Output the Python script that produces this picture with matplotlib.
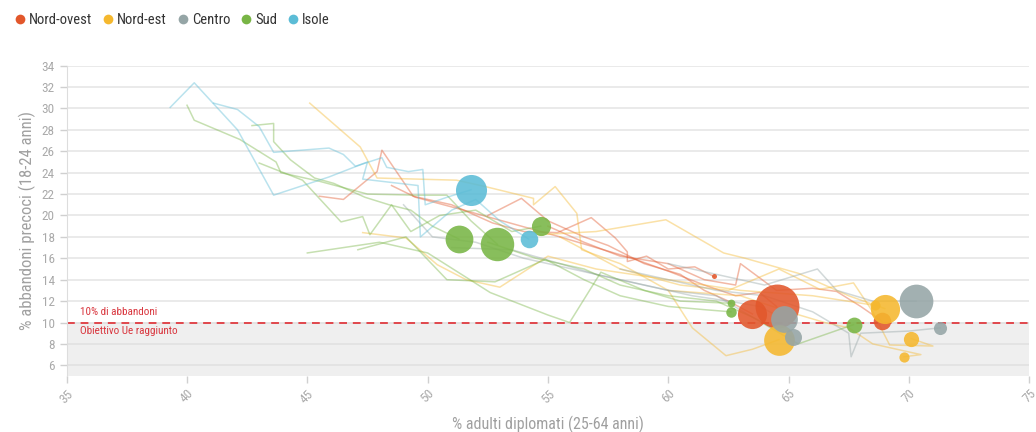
import matplotlib
matplotlib.use("Agg")
import matplotlib.pyplot as plt
from matplotlib.lines import Line2D

plt.rcParams['font.family'] = ['Roboto Condensed', 'Liberation Sans Narrow', 'Roboto', 'DejaVu Sans']

# ---- data -------------------------------------------------------------
areas = ["Nord-ovest", "Nord-est", "Centro", "Sud", "Isole"]
area_colors = ["#e2572b", "#f5b82e", "#95a5a6", "#78b545", "#5bbcd6"]

regions = ["Piemonte", "Valle d'Aosta", "Lombardia", "Liguria",
           "Bolzano", "Trento", "Veneto", "Friuli-VG", "Emilia-Romagna",
           "Toscana", "Umbria", "Marche", "Lazio",
           "Abruzzo", "Molise", "Campania", "Puglia", "Basilicata", "Calabria",
           "Sicilia", "Sardegna"]
region_area = ["Nord-ovest"] * 4 + ["Nord-est"] * 5 + ["Centro"] * 4 + ["Sud"] * 6 + ["Isole"] * 2
# population (millions) -> bubble area
population = [4.4, 0.13, 10.0, 1.6,
              0.52, 0.54, 4.9, 1.2, 4.4,
              3.7, 0.89, 1.5, 5.9,
              1.3, 0.31, 5.8, 4.0, 0.57, 1.9,
              5.0, 1.6]

# trajectories: % adulti diplomati (x), % abbandoni precoci (y)
piemonte_x = [52.5, 53.9, 55.0, 56.5, 57.5, 59.0, 60.5, 61.5, 62.5, 63.5]
piemonte_y = [20.0, 21.6, 19.5, 18.0, 17.2, 15.5, 14.5, 13.0, 12.0, 10.8]
valle_x = [45.5, 46.5, 47.9, 48.1, 49.4, 51.0, 52.7, 54.0, 55.4, 56.8, 57.8, 58.3, 58.3, 59.1, 60.0, 61.1, 61.9]
valle_y = [21.8, 21.5, 24.1, 26.1, 21.8, 21.0, 19.3, 18.5, 18.4, 19.8, 17.9, 16.6, 15.7, 16.2, 15.0, 15.2, 14.3]
lombardia_x = [48.5, 49.5, 51.5, 53.9, 55.5, 57.0, 58.5, 60.0, 61.5, 62.8, 63.8, 64.5]
lombardia_y = [22.8, 21.7, 20.5, 19.0, 18.0, 17.0, 16.0, 14.8, 13.5, 12.5, 12.8, 11.5]
liguria_x = [55.0, 56.5, 58.0, 60.0, 61.5, 62.8, 63.0, 64.5, 66.0, 67.0, 68.0, 68.9]
liguria_y = [19.0, 17.5, 16.2, 15.5, 14.0, 13.5, 15.5, 13.0, 13.2, 12.9, 11.5, 10.1]

bolzano_x = [47.3, 49.1, 50.4, 51.6, 53.0, 55.0, 57.0, 60.0, 63.0, 66.0, 68.6]
bolzano_y = [18.4, 17.9, 15.4, 14.0, 13.3, 16.2, 15.0, 14.0, 13.0, 12.5, 11.6]
trento_x = [60.0, 63.0, 65.0, 66.5, 67.5, 68.5, 70.5, 69.8]
trento_y = [13.0, 12.5, 11.0, 10.0, 9.5, 8.0, 7.0, 6.8]
veneto_x = [45.1, 47.2, 47.9, 51.2, 52.4, 54.4, 54.4, 55.3, 56.2, 56.4, 58.0, 60.0, 61.0, 62.4, 63.5, 64.6]
veneto_y = [30.5, 26.4, 23.5, 23.3, 22.7, 21.6, 21.0, 22.7, 20.2, 16.8, 15.5, 13.0, 9.5, 6.9, 7.5, 8.4]
friuli_x = [55.5, 58.0, 60.5, 62.5, 64.6, 66.3, 67.7, 68.5, 69.2, 71.0, 70.1]
friuli_y = [18.0, 15.0, 13.5, 13.0, 15.0, 13.1, 13.7, 11.0, 7.9, 7.8, 8.5]
emilia_x = [54.6, 57.0, 59.9, 62.3, 63.2, 65.4, 66.5, 67.5, 69.0]
emilia_y = [18.2, 18.5, 19.6, 16.5, 16.0, 14.6, 13.5, 12.5, 11.3]

toscana_x = [51.0, 53.5, 55.5, 57.0, 59.0, 61.0, 62.5, 63.8, 64.8]
toscana_y = [17.0, 16.8, 15.5, 14.5, 13.5, 12.5, 12.0, 11.5, 10.3]
umbria_x = [58.0, 60.0, 62.0, 64.0, 66.0, 67.5, 67.6, 68.0, 70.0, 71.3]
umbria_y = [15.0, 14.0, 13.0, 12.5, 11.0, 9.0, 6.8, 9.0, 9.2, 9.5]
marche_x = [49.0, 50.2, 52.0, 54.0, 56.0, 58.0, 60.0, 62.0, 63.5, 65.2]
marche_y = [21.0, 18.0, 17.5, 16.0, 15.0, 14.0, 13.0, 12.5, 10.5, 8.6]
lazio_x = [60.0, 62.0, 64.0, 66.2, 67.0, 68.5, 70.3]
lazio_y = [15.5, 14.5, 13.5, 15.0, 13.0, 12.0, 12.0]

abruzzo_x = [52.5, 54.5, 56.5, 58.0, 60.0, 62.0, 63.5, 65.4, 67.7]
abruzzo_y = [17.5, 16.0, 15.0, 13.5, 12.5, 12.0, 10.5, 8.0, 9.8]
molise_x = [45.0, 48.0, 50.0, 52.6, 55.0, 55.9, 57.2, 59.0, 60.5, 62.6]
molise_y = [16.5, 17.5, 16.5, 12.8, 10.7, 10.0, 14.7, 13.0, 12.0, 11.8]
campania_x = [40.0, 40.3, 42.2, 43.7, 43.9, 45.5, 47.5, 49.5, 50.8, 51.8, 52.9]
campania_y = [30.3, 28.9, 27.1, 25.0, 24.0, 23.2, 22.0, 21.9, 21.9, 19.5, 17.3]
puglia_x = [42.7, 43.6, 43.6, 44.3, 45.3, 46.1, 47.4, 48.4, 49.3, 50.2, 51.3]
puglia_y = [28.4, 28.6, 26.9, 25.2, 23.5, 23.0, 21.7, 21.0, 20.5, 19.0, 17.8]
basilicata_x = [47.1, 49.1, 50.8, 52.8, 54.9, 56.5, 58.0, 60.0, 61.5, 62.6]
basilicata_y = [16.8, 18.0, 14.0, 13.8, 15.9, 14.0, 12.5, 11.5, 11.2, 11.0]
calabria_x = [43.0, 43.9, 44.8, 46.4, 47.3, 47.6, 48.5, 49.3, 50.5, 52.0, 53.5, 54.7]
calabria_y = [24.9, 24.1, 23.3, 19.4, 19.9, 18.2, 21.0, 18.5, 20.0, 20.5, 18.5, 19.0]

sicilia_x = [41.1, 42.1, 43.0, 43.6, 45.9, 46.5, 47.0, 48.1, 48.3, 49.2, 49.8, 49.9, 50.8, 51.8]
sicilia_y = [30.5, 29.9, 28.3, 25.9, 26.3, 25.7, 24.6, 25.4, 24.5, 24.1, 24.3, 21.0, 21.7, 22.4]
sardegna_x = [39.3, 40.3, 42.1, 43.6, 45.9, 47.5, 47.3, 49.6, 49.7, 51.0, 52.0, 53.0, 54.2]
sardegna_y = [30.1, 32.4, 28.0, 21.9, 23.6, 25.0, 23.4, 22.8, 18.0, 20.5, 21.5, 19.5, 17.8]

paths = [(piemonte_x, piemonte_y), (valle_x, valle_y), (lombardia_x, lombardia_y), (liguria_x, liguria_y),
         (bolzano_x, bolzano_y), (trento_x, trento_y), (veneto_x, veneto_y), (friuli_x, friuli_y),
         (emilia_x, emilia_y),
         (toscana_x, toscana_y), (umbria_x, umbria_y), (marche_x, marche_y), (lazio_x, lazio_y),
         (abruzzo_x, abruzzo_y), (molise_x, molise_y), (campania_x, campania_y), (puglia_x, puglia_y),
         (basilicata_x, basilicata_y), (calabria_x, calabria_y),
         (sicilia_x, sicilia_y), (sardegna_x, sardegna_y)]

x_ticks = [35, 40, 45, 50, 55, 60, 65, 70, 75]
y_ticks = [6, 8, 10, 12, 14, 16, 18, 20, 22, 24, 26, 28, 30, 32, 34]
target = 10

# ---- figure -----------------------------------------------------------
fig = plt.figure(figsize=(10.36, 4.32), dpi=100)
ax = fig.add_axes([0.0644, 0.1296, 0.9290, 0.7184])
ax.set_xlim(35, 75)
ax.set_ylim(5, 34)

color_of = dict(zip(areas, area_colors))

ax.axhspan(5, target, color="#efefef", zorder=0, lw=0)
for yt in y_ticks:
    ax.axhline(yt, color="#e8e8e8" if yt > target else "#e2e2e2", lw=1.3, zorder=0.5)

for (px, py), area in zip(paths, region_area):
    ax.plot(px, py, color=color_of[area], alpha=0.42, lw=1.1, zorder=1)

ax.axhline(target, color="#e0474c", lw=1.4, dashes=(4, 3), zorder=2)
ax.text(35.55, target + 0.55, "10% di abbandoni", color="#d9363e", fontsize=8, va="bottom", ha="left", zorder=3)
ax.text(35.55, target - 0.35, "Obiettivo Ue raggiunto", color="#d9363e", fontsize=8, va="top", ha="left", zorder=3)

end_x = [p[0][-1] for p in paths]
end_y = [p[1][-1] for p in paths]
for ex, ey, pop, area in zip(end_x, end_y, population, region_area):
    ax.scatter(ex, ey, s=100 * pop, color=color_of[area], alpha=0.88, lw=0, zorder=4)

ax.set_xticks(x_ticks)
ax.set_yticks(y_ticks)
ax.set_xticklabels([str(v) for v in x_ticks], rotation=45, ha="right", rotation_mode="anchor")
ax.tick_params(axis="both", colors="#d0d0d0", labelcolor="#aaaaaa", labelsize=9.5, length=5, width=1)
ax.tick_params(axis="x", pad=3)
for s in ["top", "right", "bottom"]:
    ax.spines[s].set_visible(False)
ax.spines["left"].set_color("#dddddd")
ax.set_xlabel("% adulti diplomati (25-64 anni)", color="#a0a0a0", fontsize=11.5, labelpad=7)
ax.set_ylabel("% abbandoni precoci (18-24 anni)", color="#a0a0a0", fontsize=12, labelpad=4)

handles = [Line2D([0], [0], marker="o", color="none", markerfacecolor=c, markeredgecolor="none",
                  markersize=7) for c in area_colors]
fig.legend(handles, areas, loc="upper left", bbox_to_anchor=(0.0, 1.0), ncol=5, frameon=False,
           fontsize=10.5, handletextpad=0.1, columnspacing=0.6, handlelength=1.0,
           labelcolor="#333333")

fig.savefig("out.png", dpi=100)
